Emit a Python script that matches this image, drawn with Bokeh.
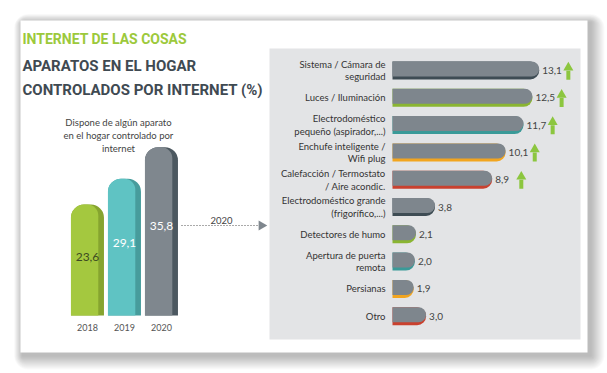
from bokeh.plotting import figure
from bokeh.models import Range1d, ColumnDataSource
from bokeh.core.properties import value
from bokeh.embed import file_html
from bokeh.resources import INLINE

# ---------------- data ----------------
years = ["2018", "2019", "2020"]
year_values = [23.6, 29.1, 35.8]

devices = [
    "Sistema / Cámara de\nseguridad",
    "Luces / Iluminación",
    "Electrodoméstico\npequeño (aspirador,...)",
    "Enchufe inteligente /\nWifi plug",
    "Calefacción / Termostato\n/ Aire acondic.",
    "Electrodoméstico grande\n(frigorífico,...)",
    "Detectores de humo",
    "Apertura de puerta\nremota",
    "Persianas",
    "Otro",
]
device_values = [13.1, 12.5, 11.7, 10.1, 8.9, 3.8, 2.1, 2.0, 1.9, 3.0]
trend_up = [True, True, True, True, True, False, False, False, False, False]

title_lines = ["INTERNET DE LAS COSAS", "APARATOS EN EL HOGAR", "CONTROLADOS POR INTERNET (%)"]
left_note = "Dispone de algún aparato\nen el hogar controlado por\ninternet"
link_label = "2020"

# ---------------- styles ----------------
FONT = value("Lato")
TFONT = value("Roboto")
year_light = ["#a4c83f", "#5fc3c3", "#7f878e"]
year_dark = ["#86a42f", "#479c9c", "#4c5860"]
year_text = ["#3d4a22", "#ffffff", "#ffffff"]
strip_cycle = ["#3e4c54", "#8ab532", "#3a9a98", "#f2a51f", "#c9412f"]
BAR_GRAY = "#7e868d"

W, H = 607, 373
p = figure(width=W, height=H, x_range=Range1d(0, W), y_range=Range1d(H, 0),
           output_backend="svg", toolbar_location=None, min_border=0,
           x_axis_location=None, y_axis_location=None)
p.grid.visible = False
p.outline_line_color = None
p.background_fill_color = "white"
p.border_fill_color = "white"

# scales for the two charts
p.extra_x_ranges = {"yr": Range1d(-87 / 37, (W - 87) / 37),
                    "hx": Range1d(-392 / 11.2, (W - 392) / 11.2)}
p.extra_y_ranges = {"yv": Range1d(-(H - 315) / 4.7, 315 / 4.7),
                    "hy": Range1d((H - 70) / 27.3, -70 / 27.3)}

# ---------------- card, shadow, panel ----------------
for d in range(14, 0, -1):
    p.quad(left=20 + 2 - d * 0.6, right=587 + 3 + d, top=20 + 2 - d * 0.6, bottom=352 + 3 + d,
           fill_color="#000000", fill_alpha=0.018, line_color=None, border_radius=d)
p.quad(left=20, right=587, top=20, bottom=352, fill_color="white", line_color=None)
p.quad(left=269, right=580, top=48, bottom=339, fill_color="#e3e4e6", line_color=None)

# ---------------- titles ----------------
p.text(x=[22], y=[38], text=[title_lines[0]], text_font=TFONT, text_font_style="bold",
       text_font_size="14px", text_color="#9cc93b", text_baseline="alphabetic")
p.text(x=[22, 22], y=[65, 89], text=title_lines[1:], text_font=TFONT, text_font_style="bold",
       text_font_size="15px", text_color="#3f4a52", text_baseline="alphabetic")

# ---------------- left chart: years ----------------
idx = list(range(len(years)))
ysrc = ColumnDataSource(dict(
    x=idx, xl=[i - 0.078 for i in idx], top=year_values, years=years,
    lab=[f"{v:.1f}".replace(".", ",") for v in year_values],
    laby=[v * 0.53 for v in year_values],
    light=year_light, dark=year_dark, tc=year_text))
p.vbar(x="x", top="top", bottom=0, width=0.89, source=ysrc, fill_color="dark", line_color=None,
       x_range_name="yr", y_range_name="yv", border_radius=(13, 13, 0, 0))
p.vbar(x="xl", top="top", bottom=0, width=0.74, source=ysrc, fill_color="light", line_color=None,
       x_range_name="yr", y_range_name="yv", border_radius=(13, 11, 0, 0))
p.text(x="x", y="laby", text="lab", source=ysrc, text_color="tc", text_font=FONT,
       text_font_size="12px", text_align="center", text_baseline="middle",
       x_range_name="yr", y_range_name="yv")
p.text(x="x", y=0, text="years", source=ysrc, text_color="#555555", text_font=FONT,
       text_font_size="9px", text_align="center", text_baseline="top", y_offset=8,
       x_range_name="yr", y_range_name="yv")
p.text(x=[118], y=[135], text=[left_note], text_color="#444444", text_font=FONT,
       text_font_size="9.5px", text_align="center", text_baseline="middle", text_line_height=1.2)

# connector
p.line(x=[181, 257], y=[225, 225], line_color="#555555", line_width=1, line_dash="1 2")
p.scatter(x=[261], y=[225], marker="triangle", angle=-1.5708, size=10,
          fill_color="#7f878e", line_color=None)
p.text(x=[221], y=[220], text=[link_label], text_color="#444444", text_font=FONT,
       text_font_size="9.5px", text_align="center", text_baseline="alphabetic")

# ---------------- right chart: devices ----------------
n = len(devices)
ridx = list(range(n))
rsrc = ColumnDataSource(dict(
    y=ridx, v=device_values, lab=devices,
    vlab=[f"{v:.1f}".replace(".", ",") for v in device_values],
    gtop=[i - 0.33 for i in ridx], gbot=[i + 0.22 for i in ridx],
    strip=[strip_cycle[i % 5] for i in ridx]))
p.hbar(y="y", right="v", left=0, height=0.66, source=rsrc, fill_color="strip", line_color=None,
       x_range_name="hx", y_range_name="hy", border_radius=(0, 9, 9, 0))
p.quad(left=0, right="v", top="gtop", bottom="gbot", source=rsrc, fill_color=BAR_GRAY,
       line_color=None, x_range_name="hx", y_range_name="hy", border_radius=(0, 8, 8, 0))
p.text(x=0, y="y", text="lab", source=rsrc, text_color="#333333", text_font=FONT,
       text_font_size="9.5px", text_align="right", text_baseline="middle", x_offset=-7,
       text_line_height=1.15, x_range_name="hx", y_range_name="hy")
p.text(x="v", y="y", text="vlab", source=rsrc, text_color="#444444", text_font=FONT,
       text_font_size="10px", text_align="left", text_baseline="middle", x_offset=3,
       x_range_name="hx", y_range_name="hy")

up = [i for i in ridx if trend_up[i]]
asrc = ColumnDataSource(dict(
    x=[device_values[i] + 2.6 for i in up],
    yh=[i - 0.11 for i in up], ys=[i + 0.17 for i in up]))
p.scatter(x="x", y="yh", source=asrc, marker="triangle", size=10, fill_color="#8cc63f",
          line_color=None, x_range_name="hx", y_range_name="hy")
p.rect(x="x", y="ys", width=4, width_units="screen", height=0.33, source=asrc,
       fill_color="#8cc63f", line_color=None, x_range_name="hx", y_range_name="hy")

open("out.html", "w").write(file_html(p, INLINE))
